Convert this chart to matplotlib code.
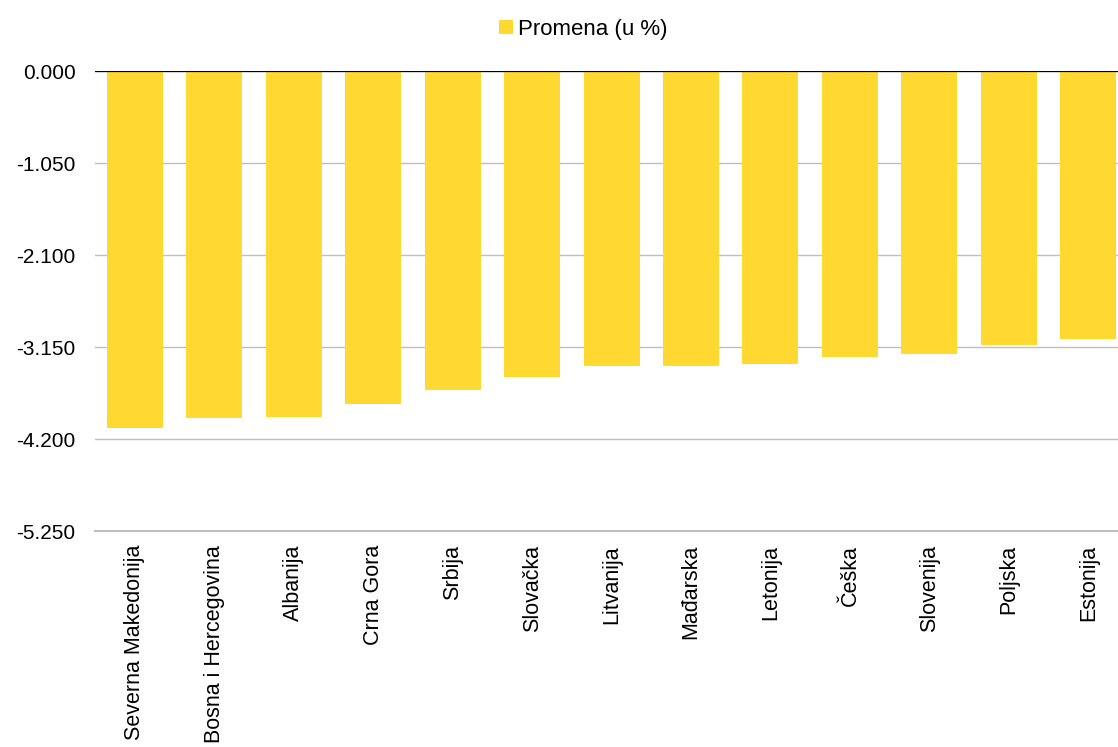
import numpy as np
import matplotlib.pyplot as plt

plt.rcParams['font.family'] = ['Liberation Sans', 'DejaVu Sans']

# data
countries = ["Severna Makedonija", "Bosna i Hercegovina", "Albanija", "Crna Gora",
             "Srbija", "Slovačka", "Litvanija", "Mađarska", "Letonija", "Češka",
             "Slovenija", "Poljska", "Estonija"]
promena = [-4.07, -3.96, -3.945, -3.80, -3.64, -3.49, -3.36, -3.36, -3.34,
           -3.26, -3.23, -3.12, -3.055]
yticks = [0.0, -1.05, -2.1, -3.15, -4.2, -5.25]

fig = plt.figure(figsize=(11.18, 7.47), dpi=100)
# the plot area runs a little past the right edge, as in the original
ax = fig.add_axes([0.085, 0.289, 0.924, 0.6157])

x = np.arange(len(countries))
ax.bar(x, promena, width=0.705, color="#FFD932", label="Promena (u %)", zorder=2)

ax.set_xlim(-0.5, len(countries) - 0.5)
ax.set_ylim(-5.25, 0)
ax.set_yticks(yticks)
ax.set_yticklabels(["%.3f" % v for v in yticks], fontsize=15)
ax.set_xticks(x)
ax.set_xticklabels(countries, rotation=90, fontsize=15.5, va="top")
ax.tick_params(length=0)
ax.tick_params(axis="x", pad=10)
ax.tick_params(axis="y", pad=14)

ax.grid(axis="y", color="#BFBFBF", linewidth=1, zorder=0)
ax.axhline(-5.25, color="#BFBFBF", linewidth=1.5, zorder=0, clip_on=False)
for s in ax.spines.values():
    s.set_visible(False)
ax.axhline(0, color="black", linewidth=1.6, zorder=3)

ax.legend(loc="lower center", bbox_to_anchor=(0.473, 1.025), frameon=False,
          fontsize=16, handlelength=0.6, handleheight=0.6, handletextpad=0.25)

fig.savefig("out.png", dpi=100)
